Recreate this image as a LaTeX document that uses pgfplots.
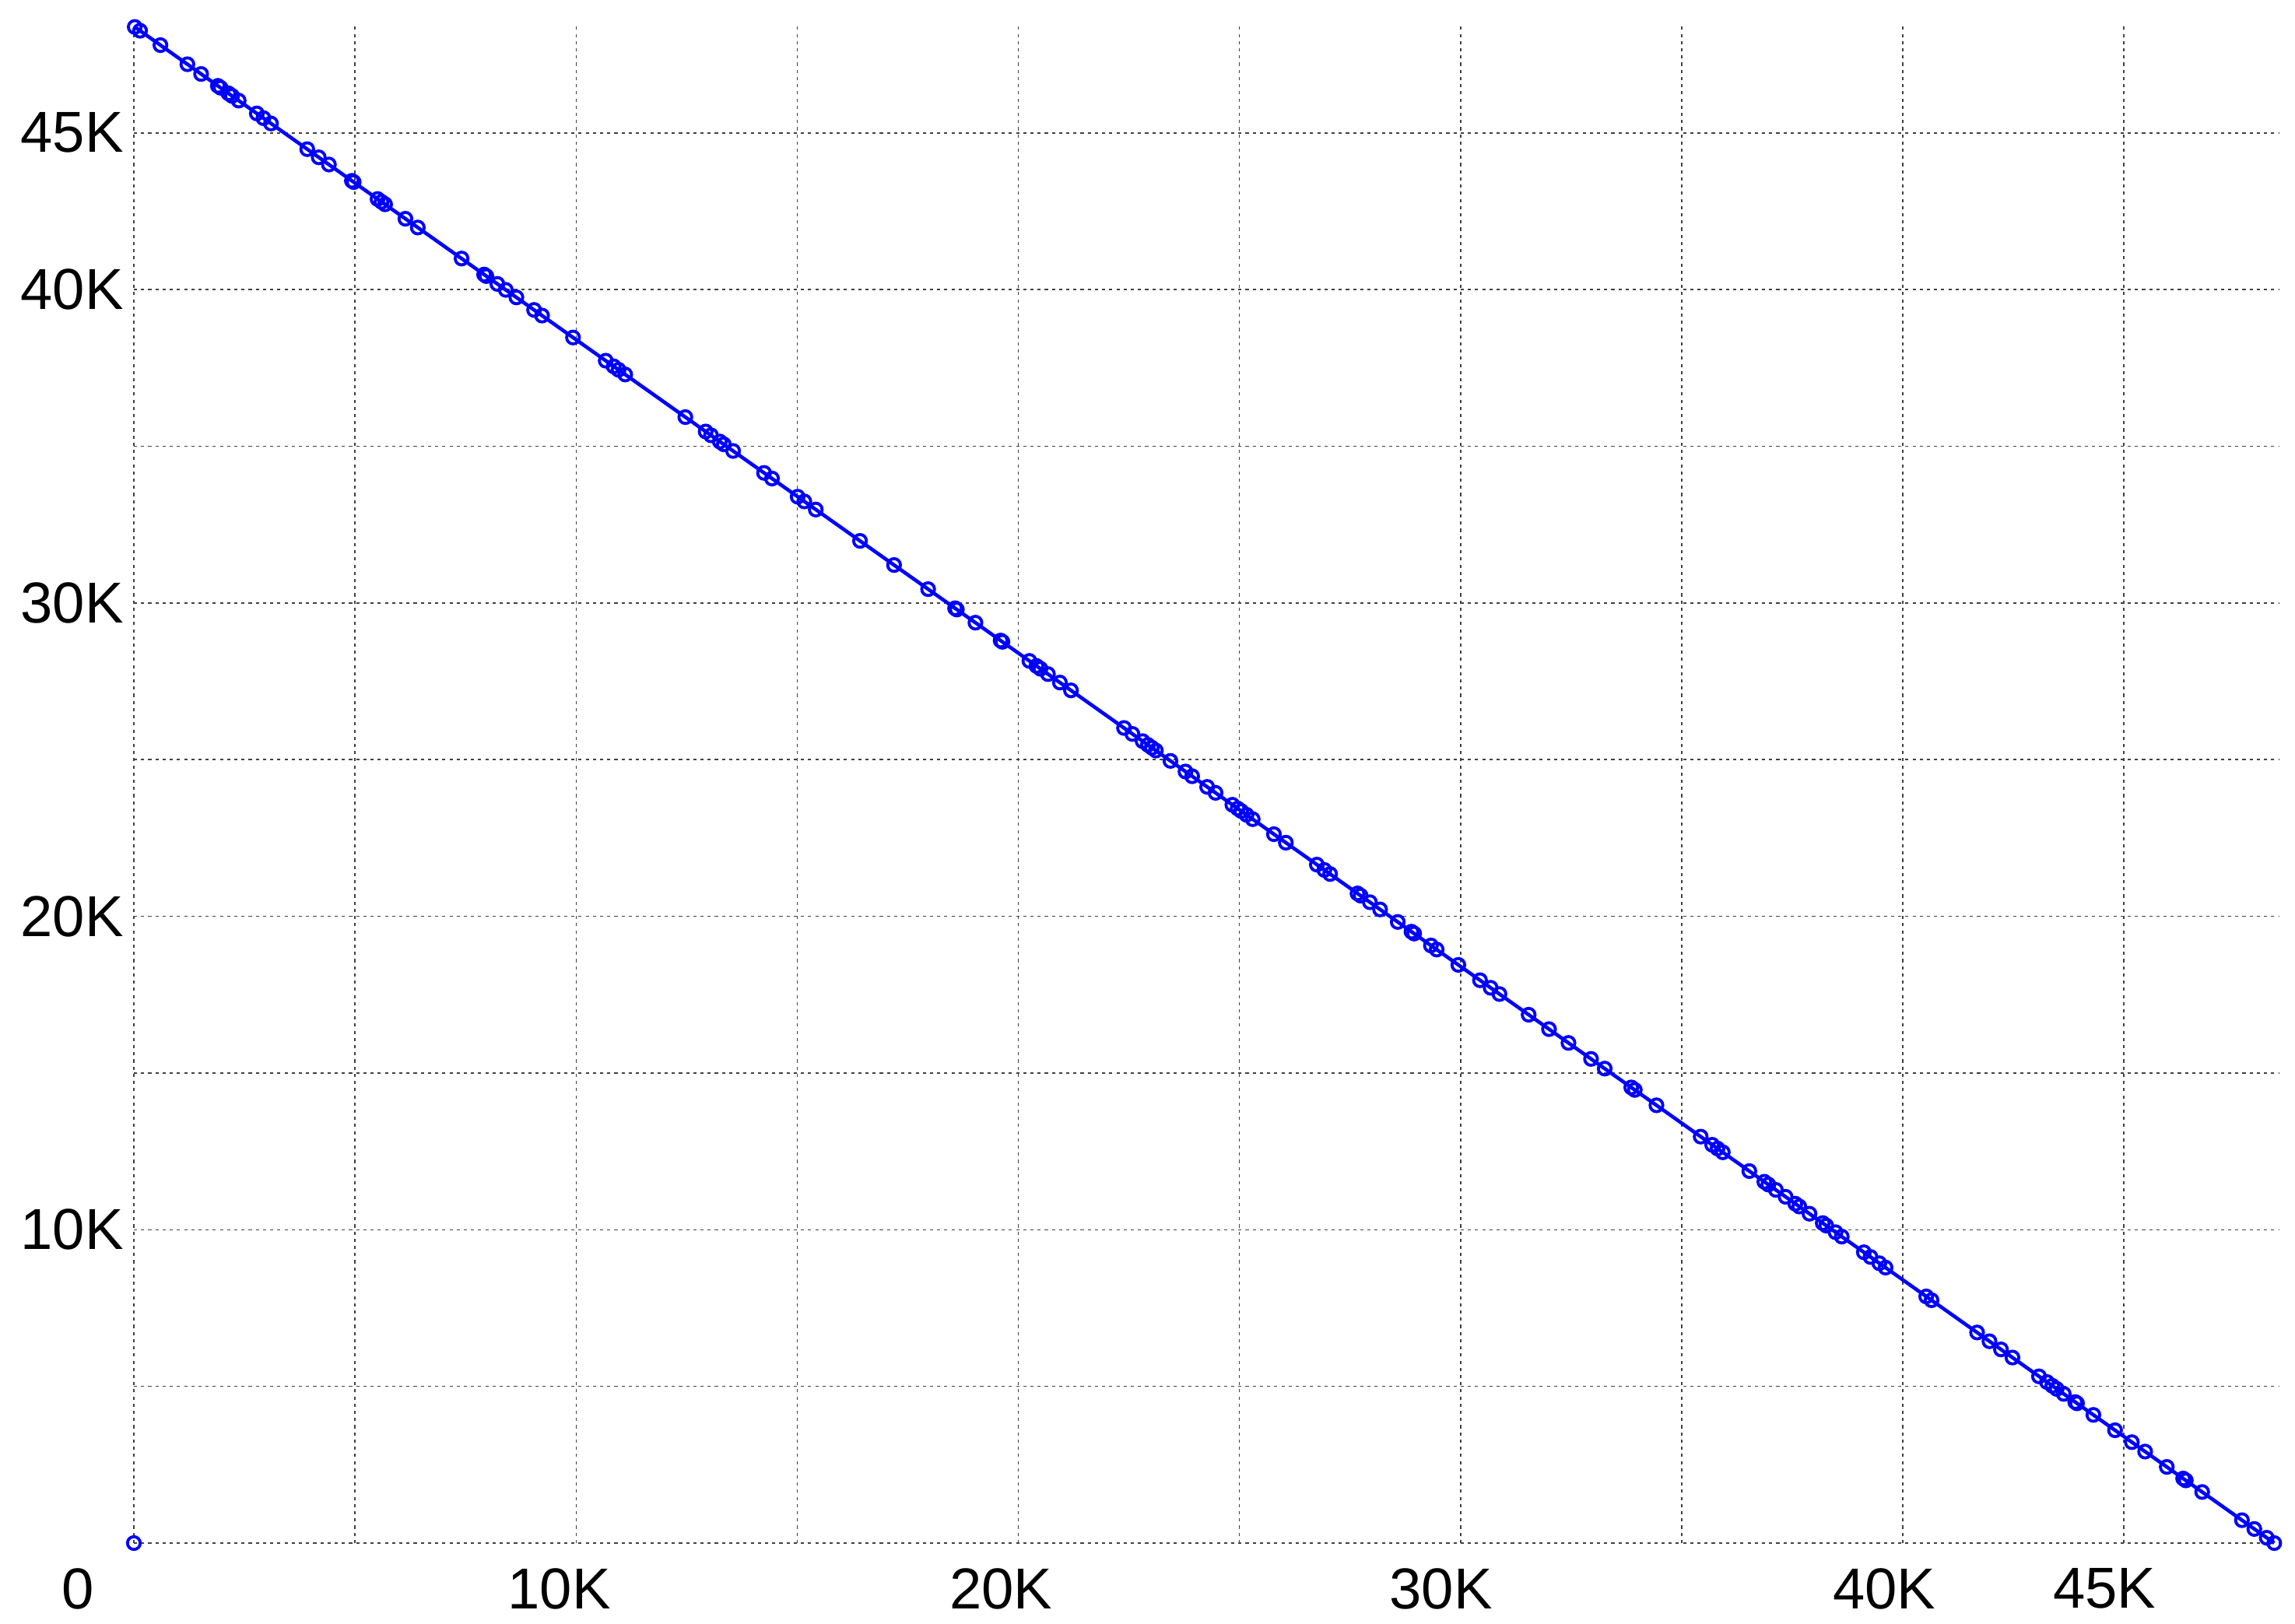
\documentclass[border=0pt]{standalone}
\usepackage{pgfplots}
\pgfplotsset{compat=1.18}
\usepackage{pgfplotstable}
\usepackage{fontspec}
\setmainfont{Liberation Sans}

\definecolor{lineblue}{RGB}{0,0,255}

\pgfplotstableread{
x y
20 48380
140 48260
600 47800
1210 47190
1520 46880
1900 46500
1960 46440
2140 46260
2220 46180
2370 46030
2780 45620
2930 45470
3100 45300
3920 44480
4180 44220
4410 43990
4930 43470
4970 43430
5510 42890
5600 42800
5680 42720
6140 42260
6420 41980
7410 40990
7920 40480
7970 40430
8220 40180
8410 39990
8650 39750
9050 39350
9230 39170
9930 38470
10670 37730
10850 37550
10960 37440
11110 37290
12470 35930
12930 35470
13050 35350
13250 35150
13340 35060
13550 34850
14250 34150
14430 33970
15010 33390
15160 33240
15420 32980
16420 31980
17190 31210
17960 30440
18570 29830
18610 29790
19030 29370
19600 28800
19640 28760
20250 28150
20410 27990
20500 27900
20670 27730
20940 27460
21190 27210
22390 26010
22580 25820
22810 25590
22930 25470
23020 25380
23110 25290
23440 24960
23780 24620
23930 24470
24270 24130
24460 23940
24840 23560
24960 23440
25040 23360
25160 23240
25300 23100
25780 22620
26050 22350
26750 21650
26920 21480
27050 21350
27670 20730
27740 20660
27950 20450
28180 20220
28580 19820
28890 19510
28950 19450
29330 19070
29460 18940
29950 18450
30440 17960
30680 17720
30880 17520
31540 16860
32000 16400
32440 15960
32950 15450
33260 15140
33860 14540
33940 14460
34430 13970
35430 12970
35690 12710
35810 12590
35930 12470
36530 11870
36870 11530
36960 11440
37130 11270
37350 11050
37570 10830
37660 10740
37890 10510
38190 10210
38270 10130
38480 9920
38620 9780
39120 9280
39270 9130
39470 8930
39610 8790
40530 7870
40650 7750
41680 6720
41960 6440
42220 6180
42480 5920
43080 5320
43260 5140
43380 5020
43480 4920
43640 4760
43900 4500
43940 4460
44310 4090
44800 3600
45180 3220
45480 2920
45970 2430
46340 2060
46400 2000
46770 1630
47670 730
47950 450
48230 170
48400 0
}\curve

\begin{document}
\begin{tikzpicture}
\begin{axis}[
  at={(33.6pt,20.12pt)},
  anchor=south west,
  scale only axis,
  width=538.3pt,
  height=381.5pt,
  xmin=0, xmax=48500,
  ymin=0, ymax=48500,
  clip=false,
  axis line style={draw=none},
  major tick length=0pt,
  xtick={0,5000,...,45000},
  ytick={0,5000,...,45000},
  % the "0" label sits left of its grid line, as in the original
  xticklabels={\makebox[0pt]{0\hspace{28.1pt}}},
  yticklabels={,,10K,,20K,,30K,,40K,45K},
  extra x ticks={9620,19610,29560,39580,44560},
  extra x tick labels={10K,20K,30K,40K,45K},
  extra x tick style={grid=none, major tick length=0pt},
  grid=major,
  grid style={draw=black!75, line width=0.3pt, dash pattern=on 0.8pt off 1pt},
  tick label style={font=\fontsize{14.5}{17}\selectfont, text=black},
  xticklabel style={inner ysep=0pt, yshift=-6.2pt},
  yticklabel style={inner xsep=0pt, xshift=-2.4pt},
  scaled ticks=false,
]
\addplot[color=lineblue, line width=0.9pt, mark=o,
  mark options={line width=0.75pt, mark size=1.6pt}] table {\curve};
\addplot[color=lineblue, only marks, mark=o,
  mark options={line width=0.75pt, mark size=1.6pt}] coordinates {(0,0)};
\end{axis}
\pgfresetboundingbox
\useasboundingbox (0,0) rectangle (576pt,407.44pt);
\end{tikzpicture}
\end{document}
